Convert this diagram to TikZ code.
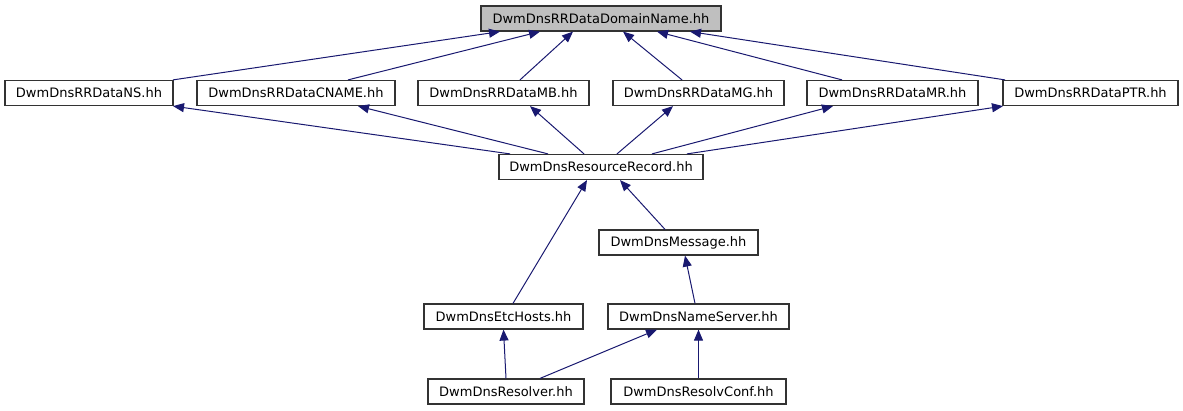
\documentclass[tikz,border=0pt]{standalone}
\usepackage{fontspec}
\setmainfont{DejaVu Sans}
\usetikzlibrary{arrows.meta}
\definecolor{edgeblue}{HTML}{191970}
\tikzset{
  file/.style={draw=black!80, line width=1.2pt, minimum height=25pt, inner sep=0pt,
    fill=white, font=\fontsize{13}{15}\selectfont},
  edge/.style={draw=edgeblue, line width=1pt, {Triangle[length=11pt,width=9pt]}-}
}
\begin{document}
\begin{tikzpicture}[x=1pt, y=-1pt]
  \useasboundingbox (0,0) rectangle (1183,411);
  % files
  \node[file, fill=black!25, minimum width=240pt] (domain) at (601,18.5) {DwmDnsRRDataDomainName.hh};
  \node[file, minimum width=168pt] (ns) at (89,93) {DwmDnsRRDataNS.hh};
  \node[file, minimum width=198pt] (cname) at (296,93) {DwmDnsRRDataCNAME.hh};
  \node[file, minimum width=171pt] (mb) at (503.5,93) {DwmDnsRRDataMB.hh};
  \node[file, minimum width=171pt] (mg) at (698.5,93) {DwmDnsRRDataMG.hh};
  \node[file, minimum width=171pt] (mr) at (892.5,93) {DwmDnsRRDataMR.hh};
  \node[file, minimum width=175pt] (ptr) at (1090.5,93) {DwmDnsRRDataPTR.hh};
  \node[file, minimum width=204pt] (rr) at (601,167) {DwmDnsResourceRecord.hh};
  \node[file, minimum width=159pt] (msg) at (678.5,242.5) {DwmDnsMessage.hh};
  \node[file, minimum width=159pt] (etc) at (503.5,316.5) {DwmDnsEtcHosts.hh};
  \node[file, minimum width=181pt] (nsrv) at (698.5,316.5) {DwmDnsNameServer.hh};
  \node[file, minimum width=156pt] (resolver) at (506,391.5) {DwmDnsResolver.hh};
  \node[file, minimum width=175pt] (resolvconf) at (698.5,391.5) {DwmDnsResolvConf.hh};
  % includes
  \draw[edge] ([xshift=-101pt]domain.south) -- ([xshift=84pt]ns.north);
  \draw[edge] ([xshift=-61pt]domain.south) -- ([xshift=52pt]cname.north);
  \draw[edge] ([xshift=-28pt]domain.south) -- ([xshift=16.5pt]mb.north);
  \draw[edge] ([xshift=22pt]domain.south) -- ([xshift=-16.5pt]mg.north);
  \draw[edge] ([xshift=56pt]domain.south) -- ([xshift=-50.5pt]mr.north);
  \draw[edge] ([xshift=89pt]domain.south) -- ([xshift=-85.5pt]ptr.north);
  \draw[edge] ([xshift=84pt]ns.south) -- ([xshift=-91pt]rr.north);
  \draw[edge] ([xshift=62pt]cname.south) -- ([xshift=-53pt]rr.north);
  \draw[edge] ([xshift=26.5pt]mb.south) -- ([xshift=-17pt]rr.north);
  \draw[edge] ([xshift=-25.5pt]mg.south) -- ([xshift=16pt]rr.north);
  \draw[edge] ([xshift=-59.5pt]mr.south) -- ([xshift=51pt]rr.north);
  \draw[edge] ([xshift=-87.5pt]ptr.south) -- ([xshift=86pt]rr.north);
  \draw[edge] ([xshift=-14pt]rr.south) -- ([xshift=9.5pt]etc.north);
  \draw[edge] ([xshift=19pt]rr.south) -- ([xshift=-13.5pt]msg.north);
  \draw[edge] ([xshift=6.5pt]msg.south) -- ([xshift=-3.5pt]nsrv.north);
  \draw[edge] (etc.south) -- (resolver.north);
  \draw[edge] ([xshift=-41.5pt]nsrv.south) -- ([xshift=34pt]resolver.north);
  \draw[edge] (nsrv.south) -- (resolvconf.north);
\end{tikzpicture}
\end{document}
